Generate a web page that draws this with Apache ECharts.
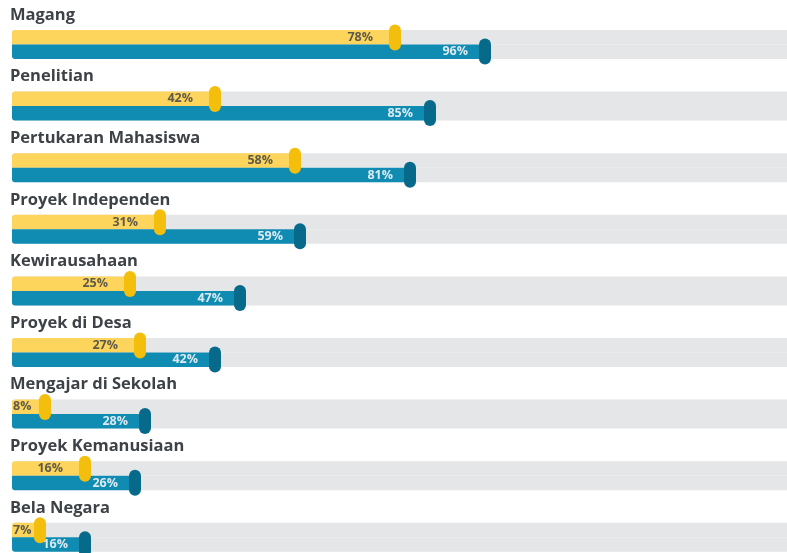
<!DOCTYPE html>
<html lang="id">
<head>
    <meta charset="UTF-8">
    <title>Program MBKM</title>
    <style>
        html, body { margin: 0; padding: 0; background: #fff; }
        #main { width: 787px; height: 553px; }
    </style>
    <script src="https://cdn.jsdelivr.net/npm/echarts@6/dist/echarts.min.js"></script>
</head>
<body>
<div id="main"></div>
<script>
    // data
    const categories = ['Magang', 'Penelitian', 'Pertukaran Mahasiswa', 'Proyek Independen',
        'Kewirausahaan', 'Proyek di Desa', 'Mengajar di Sekolah', 'Proyek Kemanusiaan', 'Bela Negara'];
    const yellowValues = [78, 42, 58, 31, 25, 27, 8, 16, 7];
    const blueValues = [96, 85, 81, 59, 47, 42, 28, 26, 16];

    const font = '"Open Sans", sans-serif';

    // short bars get their label at the start of the bar
    function barData(values) {
        return values.map(v => {
            if (v < 12) {
                return { value: v, label: { position: 'insideLeft', distance: 1 } };
            }
            return v;
        });
    }
    function markerData(values) {
        return values.map((v, i) => [v, categories[i]]);
    }

    const capsule = 'path://M0,6 A6,6 0 0 1 12,6 L12,20 A6,6 0 0 1 0,20 Z';

    let chart = echarts.init(document.getElementById('main'));
    let option = {
        animation: false,
        grid: { left: 12, right: 0, top: 13.7, height: 554.4, outerBoundsMode: 'none' },
        xAxis: {
            type: 'value',
            min: 1.4,
            max: 156.4,
            show: false
        },
        yAxis: {
            type: 'category',
            data: categories,
            inverse: true,
            axisLine: { show: false },
            axisTick: { show: false },
            splitLine: { show: false },
            axisLabel: {
                inside: true,
                interval: 0,
                hideOverlap: false,
                margin: -2,
                align: 'left',
                verticalAlign: 'middle',
                overflow: 'none',
                // name line sits above the bars, the empty line below pushes it up
                formatter: name => '{n|' + name + '}\n{s| }',
                rich: {
                    n: {
                        fontFamily: font,
                        fontWeight: 'bold',
                        fontSize: 16.5,
                        lineHeight: 20,
                        color: '#3d4247'
                    },
                    s: { fontSize: 10, lineHeight: 59, height: 59 }
                }
            },
            z: 5
        },
        series: [
            {
                type: 'bar',
                data: barData(yellowValues),
                barWidth: 14.5,
                barGap: '0%',
                showBackground: true,
                backgroundStyle: { color: '#e5e6e8', borderRadius: [3, 0, 0, 0] },
                itemStyle: { color: '#fdd55c', borderRadius: [3, 0, 0, 0] },
                label: {
                    show: true,
                    position: 'insideRight',
                    distance: 22,
                    formatter: '{c}%',
                    fontFamily: font,
                    fontWeight: 'bold',
                    fontSize: 12.5,
                    color: '#5f5b4c'
                }
            },
            {
                type: 'bar',
                data: barData(blueValues),
                barWidth: 14.5,
                barGap: '0%',
                showBackground: true,
                backgroundStyle: { color: '#e5e6e8', borderRadius: [0, 0, 0, 3] },
                itemStyle: { color: '#108cb3', borderRadius: [0, 0, 0, 3] },
                label: {
                    show: true,
                    position: 'insideRight',
                    distance: 17,
                    formatter: '{c}%',
                    fontFamily: font,
                    fontWeight: 'bold',
                    fontSize: 12.5,
                    color: '#dceaf0'
                }
            },
            {
                type: 'scatter',
                data: markerData(yellowValues),
                symbol: capsule,
                symbolSize: [12, 26],
                symbolOffset: [0, -7],
                itemStyle: { color: '#f4be0c', opacity: 1 },
                z: 4
            },
            {
                type: 'scatter',
                data: markerData(blueValues),
                symbol: capsule,
                symbolSize: [12, 26],
                symbolOffset: [0, 7],
                itemStyle: { color: '#086a8a', opacity: 1 },
                z: 4
            }
        ]
    };
    chart.setOption(option);
</script>
</body>
</html>
